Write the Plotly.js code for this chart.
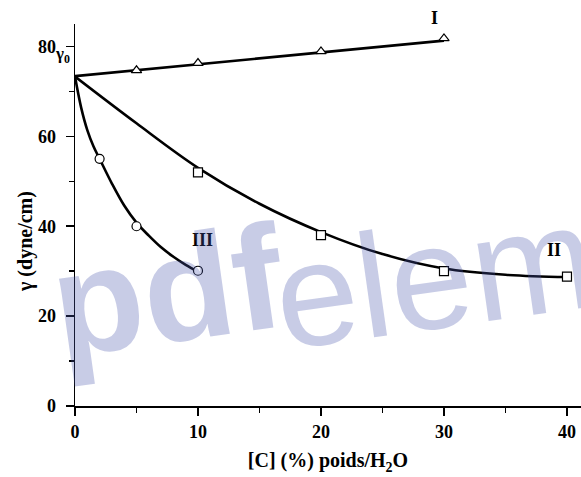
<!DOCTYPE html>
<html>
<head>
<meta charset="utf-8">
<script src="https://cdn.plot.ly/plotly-3.0.1.min.js"></script>
<style>html,body{margin:0;padding:0;background:#fff;}#chart{width:581px;height:477px;}</style>
</head>
<body>
<div id="chart"></div>
<script>
// Measured points
const xI = [5, 10, 20, 30];
const yI = [74.7, 76.3, 78.9, 81.8];
const xII = [10, 20, 30, 40];
const yII = [52, 38, 30, 28.8];
const xIII = [2, 5, 10];
const yIII = [55, 40, 30.1];
// Fitted curves
const fitXI = [0, 30];
const fitYI = [73.4, 81.3];
const fitXII = [0, 5, 10, 15, 20, 25, 30, 35, 40];
const fitYII = [73.3, 62.9, 53, 45, 38.7, 33.8, 30.6, 29.2, 28.7];
const fitXIII = [0, 0.5, 1, 1.5, 2, 3, 4, 5, 6, 7, 8, 9, 10];
const fitYIII = [73.3, 66.4, 61.4, 57.8, 55, 49.5, 44.6, 40.8, 37.9, 35.3, 33.2, 31.4, 29.9];
const curveLabels = ["I", "II", "III"];

const W = 581, H = 477, ml = 75, mr = 0, mt = 24, mb = 71;
const px = (p) => (p - ml) / (W - ml - mr);
const py = (p) => (H - mb - p) / (H - mt - mb);
const labelPx = [[434, 18], [554, 250], [202, 240]];

const serif = "Liberation Serif, Times New Roman, serif";
const lineStyle = {color: "#000", width: 2.6, shape: "spline", smoothing: 1};
const mk = (sym) => ({symbol: sym, size: 9, color: "#fff", line: {color: "#000", width: 1.2}});

const traces = [
  {x: fitXI, y: fitYI, mode: "lines", line: lineStyle, hoverinfo: "skip"},
  {x: fitXII, y: fitYII, mode: "lines", line: lineStyle, hoverinfo: "skip"},
  {x: fitXIII, y: fitYIII, mode: "lines", line: lineStyle, hoverinfo: "skip"},
  {x: xI, y: yI, mode: "markers", marker: mk("triangle-up"), cliponaxis: false},
  {x: xII, y: yII, mode: "markers", marker: mk("square"), cliponaxis: false},
  {x: xIII, y: yIII, mode: "markers", marker: mk("circle"), cliponaxis: false}
];

const axisCommon = {
  showline: true, linecolor: "#000", linewidth: 1.5,
  ticks: "outside", ticklen: 8, tickwidth: 1.5, tickcolor: "#000",
  showgrid: false, zeroline: false,
  tickfont: {family: serif, size: 18, color: "#000", weight: "bold"}
};

const boldSerif = (s) => ({family: serif, size: s, color: "#000", weight: "bold"});
const annotations = curveLabels.map((t, i) => ({
  x: px(labelPx[i][0]), y: py(labelPx[i][1]), xref: "paper", yref: "paper",
  xanchor: "center", yanchor: "middle", text: t, showarrow: false, font: boldSerif(18)
}));
annotations.push({
  x: px(62), y: py(55), xref: "paper", yref: "paper", xanchor: "center", yanchor: "middle",
  text: "γ<sub>0</sub>", showarrow: false, font: boldSerif(17)
});
annotations.push({
  x: px(25), y: py(242), xref: "paper", yref: "paper", xanchor: "center", yanchor: "middle",
  text: "γ (dyne/cm)", textangle: -90, showarrow: false, font: boldSerif(20)
});
// watermark
const wmColor = "rgba(72,85,172,0.3)";
annotations.push({
  x: px(167), y: py(290), xref: "paper", yref: "paper", xanchor: "center", yanchor: "middle",
  text: "<b>pdf</b>", showarrow: false, textangle: -8,
  font: {family: "Liberation Sans, Arial, sans-serif", size: 148, color: wmColor}
});
annotations.push({
  x: px(536), y: py(262), xref: "paper", yref: "paper", xanchor: "center", yanchor: "middle",
  text: "element", showarrow: false, textangle: -8,
  font: {family: "Liberation Sans Narrow, Liberation Sans, sans-serif", size: 148, color: wmColor}
});

const layout = {
  width: W, height: H,
  margin: {l: ml, r: mr, t: mt, b: mb, pad: 0},
  paper_bgcolor: "#fff", plot_bgcolor: "#fff",
  showlegend: false,
  xaxis: Object.assign({}, axisCommon, {
    range: [0, 41.14], dtick: 10, tick0: 0,
    minor: {dtick: 5, ticks: "outside", ticklen: 5, tickwidth: 1.5, tickcolor: "#000"},
    ticklabelstandoff: 1,
    title: {text: "[C] (%) poids/H<sub>2</sub>O", standoff: 12, font: boldSerif(20)}
  }),
  yaxis: Object.assign({}, axisCommon, {
    range: [0, 85], dtick: 20, tick0: 0,
    minor: {dtick: 10, ticks: "outside", ticklen: 5, tickwidth: 1.5, tickcolor: "#000"},
    ticklabelstandoff: 6
  }),
  annotations: annotations
};

Plotly.newPlot("chart", traces, layout, {staticPlot: true});
</script>
</body>
</html>
